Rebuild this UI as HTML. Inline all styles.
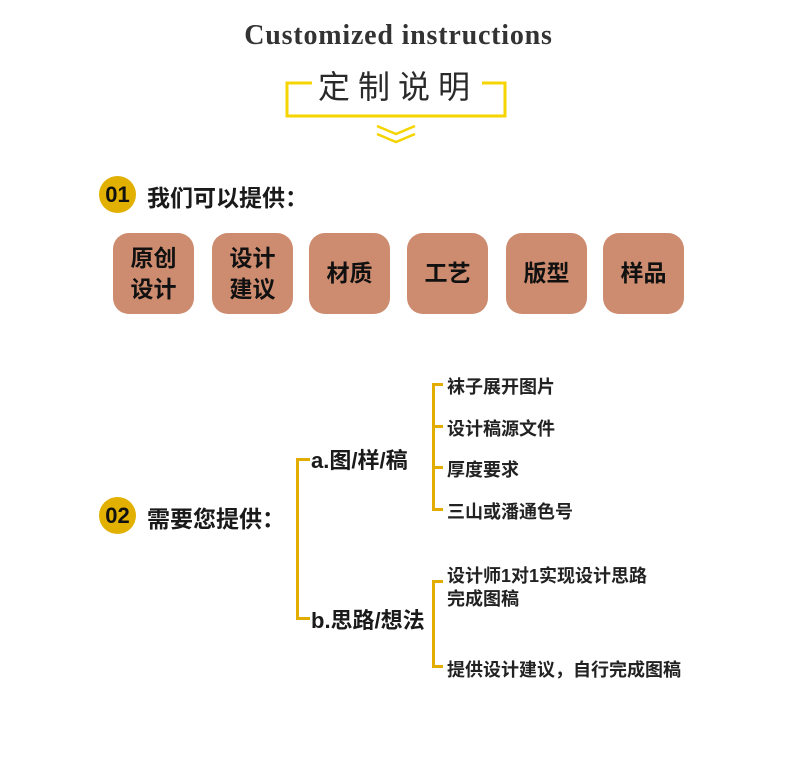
<!DOCTYPE html>
<html><head><meta charset="utf-8"><style>
body{margin:0;width:790px;height:761px;background:#fff;position:relative;overflow:hidden;font-family:"Liberation Sans","Noto Sans CJK SC",sans-serif;color:#1a1a1a}
.a{position:absolute;white-space:nowrap}
.box{position:absolute;top:233px;width:81px;height:81px;background:#cd8c6f;border-radius:16px;display:flex;align-items:center;justify-content:center;text-align:center;font-weight:bold;font-size:23px;line-height:31px;color:#111}
.ln{position:absolute;background:#e3ad00}
.c{position:absolute;width:37px;height:37px;border-radius:50%;background:#e2b000;font-weight:bold;font-size:22px;line-height:37px;text-align:center;color:#111}
.h{font-weight:bold;font-size:23px}
.s{font-size:18px;font-weight:bold;color:#222}
</style></head><body>
<div class="a" style="left:0;width:797px;top:20px;text-align:center;font-family:'Liberation Serif','DejaVu Serif',serif;font-weight:bold;font-size:28px;letter-spacing:0.8px;color:#333">Customized instructions</div>
<div class="a" style="left:318px;top:62px;font-size:32px;letter-spacing:8px;color:#2a2a2a">定制说明</div>
<svg class="a" style="left:0;top:0" width="790" height="160">
<polyline points="312,83 287,83 287,116 505,116 505,83 482,83" fill="none" stroke="#f5d400" stroke-width="3"/>
<polyline points="377,126 396,134 415,126" fill="none" stroke="#f5d400" stroke-width="2.5"/>
<polyline points="377,134 396,142 415,134" fill="none" stroke="#f5d400" stroke-width="2.5"/>
</svg>
<div class="c" style="left:99px;top:176px">01</div>
<div class="a h" style="left:147px;top:179px">我们可以提供：</div>
<div class="box" style="left:113px">原创<br>设计</div>
<div class="box" style="left:212px">设计<br>建议</div>
<div class="box" style="left:309px">材质</div>
<div class="box" style="left:407px">工艺</div>
<div class="box" style="left:506px">版型</div>
<div class="box" style="left:603px">样品</div>
<div class="c" style="left:99px;top:497px">02</div>
<div class="a h" style="left:147px;top:500px">需要您提供：</div>
<div class="ln" style="left:296px;top:458px;width:3px;height:162px"></div>
<div class="ln" style="left:296px;top:458px;width:14px;height:3px"></div>
<div class="ln" style="left:296px;top:617px;width:14px;height:3px"></div>
<div class="a" style="left:311px;top:443px;font-size:22px;font-weight:bold">a.图/样/稿</div>
<div class="a" style="left:311px;top:603px;font-size:22px;font-weight:bold">b.思路/想法</div>
<div class="ln" style="left:432px;top:383px;width:3px;height:128px"></div>
<div class="ln" style="left:432px;top:383px;width:11px;height:3px"></div>
<div class="ln" style="left:432px;top:425px;width:11px;height:3px"></div>
<div class="ln" style="left:432px;top:466px;width:11px;height:3px"></div>
<div class="ln" style="left:432px;top:508px;width:11px;height:3px"></div>
<div class="a s" style="left:447px;top:373px">袜子展开图片</div>
<div class="a s" style="left:447px;top:415px">设计稿源文件</div>
<div class="a s" style="left:447px;top:456px">厚度要求</div>
<div class="a s" style="left:447px;top:498px">三山或潘通色号</div>
<div class="ln" style="left:432px;top:580px;width:3px;height:88px"></div>
<div class="ln" style="left:432px;top:580px;width:11px;height:3px"></div>
<div class="ln" style="left:432px;top:665px;width:11px;height:3px"></div>
<div class="a s" style="left:447px;top:565px;line-height:23px">设计师1对1实现设计思路<br>完成图稿</div>
<div class="a s" style="left:447px;top:656px">提供设计建议，自行完成图稿</div>
</body></html>
